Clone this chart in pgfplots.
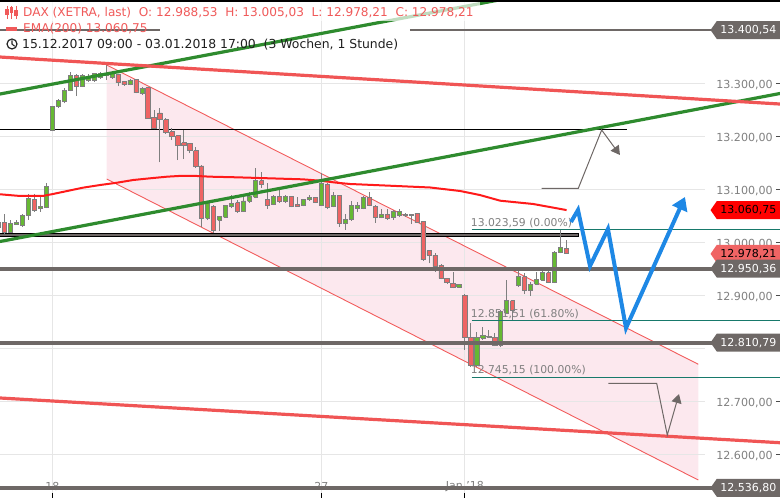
\documentclass[border=0pt]{standalone}
\usepackage{pgfplots}
\pgfplotsset{compat=1.18}
\usepackage{pgfplotstable}
\usepackage{fontspec}
\setmainfont{DejaVu Sans}
\usetikzlibrary{arrows.meta,shapes.symbols}
\definecolor{bull}{HTML}{66B933}
\definecolor{bear}{HTML}{EF6464}
\definecolor{cout}{HTML}{7F7F7F}
\definecolor{lvl}{HTML}{6E6866}
\definecolor{gridc}{HTML}{E6E6E6}
\definecolor{pinkf}{HTML}{FCE8EE}
\definecolor{chan}{HTML}{F25C5C}
\definecolor{tred}{HTML}{F05555}
\definecolor{tgreen}{HTML}{2E8B2E}
\definecolor{ema}{HTML}{FF1A1A}
\definecolor{arrowblue}{HTML}{1E88E5}
\definecolor{fib}{HTML}{17796B}
\definecolor{ticktext}{HTML}{808080}
\definecolor{legred}{HTML}{F05A5A}
\definecolor{boxred}{HTML}{FF0000}
\definecolor{boxsalmon}{HTML}{F06464}
\tikzset{
  wickst/.style={draw=cout, line width=0.9pt},
  bodyst/.style={draw=cout, line width=0.8pt, line join=miter},
  labelbox/.style={signal, signal to=west, signal pointer angle=110,
    minimum height=18pt, inner xsep=3.5pt, inner ysep=0pt, anchor=east,
    font=\fontsize{11}{12}\selectfont},
  ticklab/.style={anchor=east, text=ticktext, inner sep=0pt, yshift=-1.5pt,
    font=\fontsize{11.1}{12}\selectfont},
  fiblab/.style={anchor=south west, text=ticktext, inner sep=1pt,
    font=\fontsize{10.8}{12}\selectfont},
}

\pgfplotstableread{
i O H L C
1 13038 13042 13025 13029
2 13038 13053 13016 13019
3 13018 13042 13017 13036
4 13034 13042 13033 13037
5 13031 13053 13029 13051
6 13050 13092 13043 13082
7 13081 13092 13058 13060
8 13064 13085 13058 13067
9 13066 13111 13064 13106
10 13211 13258 13210 13257
11 13256 13270 13254 13267
12 13265 13291 13262 13287
13 13286 13321 13285 13314
14 13314 13318 13276 13295
15 13295 13318 13293 13314
16 13305 13318 13303 13311
17 13305 13320 13303 13318
18 13311 13321 13308 13319
19 13314 13334 13306 13319
20 13312 13322 13309 13319
21 13316 13317 13294 13301
22 13303 13305 13295 13297
23 13297 13308 13296 13306
24 13308 13309 13281 13282
25 13281 13293 13278 13291
26 13292 13293 13233 13234
27 13236 13250 13213 13215
28 13244 13253 13151 13231
29 13231 13234 13205 13207
30 13209 13215 13193 13199
31 13201 13203 13155 13182
32 13188 13212 13157 13182
33 13187 13188 13168 13173
34 13173 13179 13140 13143
35 13144 13145 13029 13045
36 13045 13074 13042 13073
37 13068 13070 13017 13023
38 13042 13050 13022 13048
39 13047 13070 13046 13069
40 13067 13089 13064 13074
41 13075 13080 13055 13058
42 13058 13085 13057 13078
43 13077 13095 13075 13087
44 13085 13140 13083 13116
45 13116 13132 13102 13110
46 13080 13111 13063 13070
47 13072 13089 13070 13086
48 13086 13099 13075 13078
49 13077 13089 13074 13087
50 13087 13088 13066 13068
51 13072 13086 13067 13068
52 13070 13081 13068 13081
53 13081 13089 13078 13085
54 13085 13086 13074 13075
55 13070 13130 13069 13111
56 13110 13111 13062 13066
57 13067 13094 13066 13089
58 13089 13090 13029 13035
59 13036 13053 13024 13043
60 13043 13078 13041 13070
61 13064 13076 13058 13070
62 13064 13087 13062 13085
63 13085 13095 13068 13070
64 13068 13070 13037 13047
65 13047 13062 13045 13053
66 13053 13062 13043 13045
67 13047 13060 13043 13058
68 13050 13062 13047 13058
69 13050 13056 13048 13053
70 13053 13054 13035 13050
71 13055 13056 13036 13037
72 13039 13039 12965 12967
73 12984 12984 12960 12976
74 12976 12979 12944 12954
75 12957 12959 12930 12932
76 12932 12933 12922 12924
77 12923 12944 12913 12915
78 12915 12922 12914 12921
79 12900 12902 12797 12821
80 12821 12847 12765 12767
81 12767 12831 12765 12821
82 12819 12840 12816 12825
83 12821 12834 12819 12823
84 12821 12829 12804 12806
85 12806 12872 12802 12869
86 12866 12928 12865 12890
87 12890 12890 12852 12872
88 12918 12951 12916 12936
89 12935 12943 12902 12909
90 12909 12926 12899 12921
91 12921 12944 12919 12930
92 12929 12946 12927 12943
93 12943 12949 12923 12924
94 12924 12984 12923 12980
95 12980 13023.59 12979 12990
96 12988.53 13005.03 12978.21 12978.21
}\candles

\pgfplotstableread{
x y
1.25 13090.6
4.6 13087.4
8.4 13087.4
10.1 13091.1
12.5 13096.8
15.1 13103.0
18.0 13108.1
20.8 13112.4
23.5 13117.5
26.3 13120.7
29.2 13123.8
31.4 13125.3
34.2 13125.1
36.4 13123.8
40.9 13122.6
46.4 13120.7
51.9 13118.8
54.8 13116.2
57.6 13112.4
59.8 13110.0
61.9 13109.0
67.6 13106.2
73.2 13103.4
78.2 13096.8
81.5 13089.2
84.9 13078.5
90.4 13072.3
94.4 13064.1
96.0 13060.75
}\ema

\begin{document}
\begin{tikzpicture}
\begin{axis}[at={(0,0)}, anchor=south west, scale only axis,
  width=780pt, height=498pt,
  xmin=1.254, xmax=131.69, ymin=12517.5, ymax=13457.2,
  hide axis, no markers]
% pink channel
\addplot[fill=pinkf, draw=none] coordinates {(19.10,13334.5) (118.03,12769.8) (118.03,12551.4) (19.10,13119.4) (19.10,13334.5)};
% grid
\pgfplotsinvokeforeach{12600,12700,12800,12900,13000,13100,13200,13300}{
  \draw[gridc, line width=1pt] (axis cs:1.254,#1) -- (axis cs:119.15,#1);
}
\pgfplotsinvokeforeach{10,55,79}{
  \draw[gridc, line width=1pt] (axis cs:#1,12517.5) -- (axis cs:#1,13457.2);
}
% channel lines
\addplot[chan, line width=0.9pt] coordinates {(19.10,13334.5) (118.03,12769.8)};
\addplot[chan, line width=0.9pt] coordinates {(19.10,13119.4) (118.03,12551.4)};
% black lines
\addplot[black, line width=1pt] coordinates {(1.254,13211.9) (106.10,13211.9)};
\addplot[black, line width=4.6pt] coordinates {(1.254,13013.8) (98.08,13013.8)};
\addplot[lvl, line width=2.2pt] coordinates {(1.254,13013.8) (97.95,13013.8)};
% candles
\pgfplotsforeachungrouped \k in {0,...,95}{%
  \pgfplotstablegetelem{\k}{i}\of\candles \let\candI\pgfplotsretval
  \pgfplotstablegetelem{\k}{O}\of\candles \let\candO\pgfplotsretval
  \pgfplotstablegetelem{\k}{H}\of\candles \let\candH\pgfplotsretval
  \pgfplotstablegetelem{\k}{L}\of\candles \let\candL\pgfplotsretval
  \pgfplotstablegetelem{\k}{C}\of\candles \let\candC\pgfplotsretval
  \pgfmathsetmacro\xa{\candI-0.35}%
  \pgfmathsetmacro\xb{\candI+0.35}%
  \pgfmathtruncatemacro\up{\candC>=\candO}%
  \ifnum\up>0 \def\ccol{bull}\else\def\ccol{bear}\fi
  \edef\tmp{%
    \noexpand\addplot[wickst] coordinates {(\candI,\candL) (\candI,\candH)};
    \noexpand\addplot[bodyst, fill=\ccol] coordinates {(\xa,\candO) (\xb,\candO) (\xb,\candC) (\xa,\candC) (\xa,\candO)};
  }\tmp
}
% EMA
\addplot[ema, line width=2pt] table[x=x,y=y] {\ema};
% trend lines
\addplot[tgreen, line width=3.2pt] coordinates {(1.254,13279.8) (131.69,13557.2)};
\addplot[tgreen, line width=3.2pt] coordinates {(1.254,13001.5) (131.69,13280.8)};
\addplot[tred, line width=3.2pt] coordinates {(1.254,13349.6) (131.69,13260.9)};
\addplot[tred, line width=3.2pt] coordinates {(1.254,12706.2) (131.69,12621.8)};
% x labels
\node[text=ticktext, font=\fontsize{11}{12}\selectfont] at (axis cs:10,12539) {18};
\node[text=ticktext, font=\fontsize{11}{12}\selectfont] at (axis cs:55,12539) {27};
\node[text=ticktext, font=\fontsize{11}{12}\selectfont] at (axis cs:79,12539) {Jan '18};
% level lines
\addplot[lvl, line width=1.2pt] coordinates {(1.254,13400.54) (28.01,13400.54)};
\addplot[lvl, line width=1.2pt] coordinates {(69.81,13400.54) (131.69,13400.54)};
\addplot[lvl, line width=4pt] coordinates {(1.254,12950.36) (131.69,12950.36)};
\addplot[lvl, line width=4pt] coordinates {(1.254,12810.79) (131.69,12810.79)};
\addplot[lvl, line width=4pt] coordinates {(1.254,12536.80) (131.69,12536.80)};
% bottom tick marks
\pgfplotsinvokeforeach{10,55,79}{
  \draw[black, line width=1pt] (axis cs:#1,12527) -- (axis cs:#1,12517.5);
}
% fib
\addplot[fib, line width=1pt] coordinates {(80.13,13023.59) (131.69,13023.59)};
\addplot[fib, line width=1pt] coordinates {(80.13,12851.51) (131.69,12851.51)};
\addplot[fib, line width=1pt] coordinates {(80.13,12745.15) (131.69,12745.15)};
\node[fiblab] at (axis cs:79.8,13025.5) {13.023,59 (0.00\%)};
\node[fiblab] at (axis cs:79.8,12853.2) {12.851,51 (61.80\%)};
\node[fiblab] at (axis cs:79.8,12746.8) {12.745,15 (100.00\%)};
% blue path
\addplot[arrowblue, line width=4pt, line join=miter, -{Triangle[width=16pt,length=13pt]}] coordinates {(96.74,13038.3) (97.91,13060.9) (99.92,12955.3) (102.92,13025.1) (105.94,12838.2) (115.80,13085.5)};
% grey annotations
\addplot[lvl, line width=1pt, -{Triangle[width=10pt,length=9pt]}] coordinates {(91.84,13101.9) (97.96,13101.9) (101.87,13211.9) (104.93,13164.7)};
\addplot[lvl, line width=1pt, -{Triangle[width=10pt,length=9pt]}] coordinates {(102.97,12733.9) (111.07,12733.9) (112.84,12636.4) (114.8,12713.7)};
% right ticks and tick labels
\pgfplotsinvokeforeach{12600,12700,12800,12900,13000,13100,13200,13300}{
  \draw[black!70, line width=1pt] (axis cs:131.02,#1) -- (axis cs:131.69,#1);
}
\node[ticklab] at (axis cs:130.52,13300) {13.300,00};
\node[ticklab] at (axis cs:130.52,13200) {13.200,00};
\node[ticklab] at (axis cs:130.52,13100) {13.100,00};
\node[ticklab] at (axis cs:130.52,13000) {13.000,00};
\node[ticklab] at (axis cs:130.52,12900) {12.900,00};
\node[ticklab] at (axis cs:130.52,12700) {12.700,00};
\node[ticklab] at (axis cs:130.52,12600) {12.600,00};
% value boxes
\node[labelbox, fill=lvl, text=white] at (axis cs:131.69,13400.54) {13.400,54};
\node[labelbox, fill=boxred, text=black] at (axis cs:131.69,13060.75) {13.060,75};
\node[labelbox, fill=boxsalmon, text=black] at (axis cs:131.69,12978.21) {12.978,21};
\node[labelbox, fill=lvl, text=white] at (axis cs:131.69,12950.36) {12.950,36};
\node[labelbox, fill=lvl, text=white] at (axis cs:131.69,12810.79) {12.810,79};
\node[labelbox, fill=lvl, text=white] at (axis cs:131.69,12536.80) {12.536,80};
\end{axis}
% legend (pixel coordinates, y downward)
\begin{scope}[x=1pt,y=-1pt,shift={(0pt,498pt)}]
\fill[white, opacity=0.7] (0,1) rectangle (480,21);
% candle icon
\foreach \cx/\ta/\tb in {7/9/15, 11.5/7/13, 16/10/16}{
  \draw[legred, line width=0.9pt] (\cx,6) -- (\cx,19);
  \fill[legred] (\cx-1.6,\ta) rectangle (\cx+1.6,\tb);
}
\node[anchor=west, text=legred, inner sep=0pt, font=\fontsize{12.1}{13}\selectfont] at (23,12.5) {DAX (XETRA, last)\ \ O: 12.988,53\ \ H: 13.005,03\ \ L: 12.978,21\ \ C: 12.978,21};
\fill[legred] (6,27.3) rectangle (17,30.7);
\node[anchor=west, text=legred, inner sep=0pt, font=\fontsize{12.1}{13}\selectfont] at (23,28.5) {EMA(200) 13.060,75};
\draw[black!85, line width=1.2pt] (12,44) circle (5);
\draw[black!85, line width=1.1pt] (12,40.5) -- (12,44) -- (14.6,46.2);
\node[anchor=west, text=black!88, inner sep=0pt, font=\fontsize{12.4}{13}\selectfont] at (22,44.5) {15.12.2017 09:00 - 03.01.2018 17:00\ \ (3 Wochen, 1 Stunde)};
\draw[black, line width=1.6pt] (0,0.8) -- (780,0.8);
\end{scope}
\pgfresetboundingbox
\useasboundingbox (0,0) rectangle (780pt,498pt);
\end{tikzpicture}
\end{document}
